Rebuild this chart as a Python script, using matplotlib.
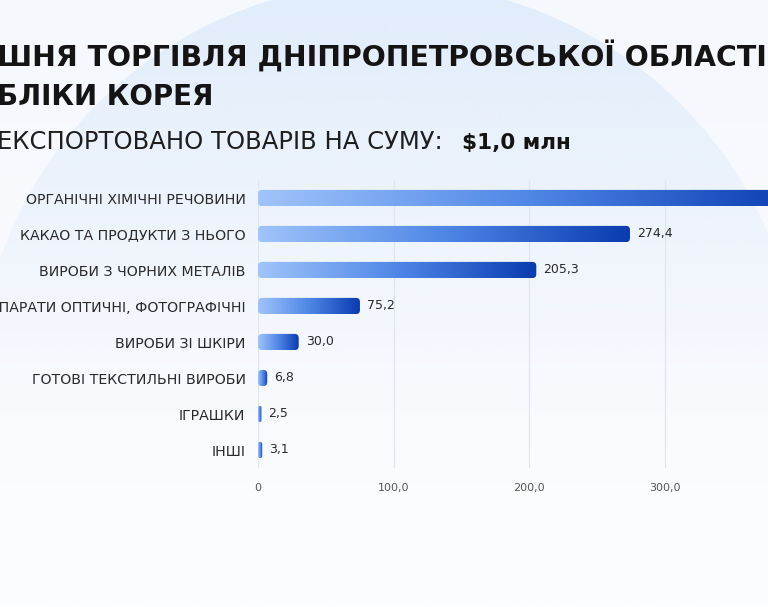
import numpy as np
import matplotlib
matplotlib.use("Agg")
import matplotlib.pyplot as plt
from matplotlib.patches import FancyBboxPatch, Circle
from matplotlib.colors import LinearSegmentedColormap, to_rgb

plt.rcParams['font.family'] = ['DejaVu Sans']

categories = ["ОРГАНІЧНІ ХІМІЧНІ РЕЧОВИНИ", "КАКАО ТА ПРОДУКТИ З НЬОГО", "ВИРОБИ З ЧОРНИХ МЕТАЛІВ",
              "АПАРАТИ ОПТИЧНІ, ФОТОГРАФІЧНІ", "ВИРОБИ ЗІ ШКІРИ", "ГОТОВІ ТЕКСТИЛЬНІ ВИРОБИ",
              "ІГРАШКИ", "ІНШІ"]
values = [402.7, 274.4, 205.3, 75.2, 30.0, 6.8, 2.5, 3.1]
xticks = [0, 100, 200, 300]
xtick_labels = ["0", "100,0", "200,0", "300,0"]

W, H = 768, 607
fig = plt.figure(figsize=(W / 100, H / 100), dpi=100)

# background + big faded circle
bg = fig.add_axes([0, 0, 1, 1])
bg.set_xlim(0, W)
bg.set_ylim(H, 0)
bg.axis("off")
top = np.array(to_rgb("#f5f8fd"))
bot = np.array(to_rgb("#fcfdff"))
t = np.linspace(0, 1, 300).reshape(-1, 1, 1)
bg.imshow(top * (1 - t) + bot * t, extent=(0, W, H, 0), aspect="auto", zorder=0)
circ = Circle((389, 395), 412, facecolor="none", edgecolor="none")
bg.add_patch(circ)
ca = np.zeros((300, 1, 4))
ca[:, 0, :3] = to_rgb("#e2edfb")
ca[:, 0, 3] = np.clip(1 - np.linspace(0, 1, 300) / 0.75, 0, 1) ** 1.3
im = bg.imshow(ca, extent=(0, W, H, 0), aspect="auto", zorder=1)
im.set_clip_path(circ)
bg.set_xlim(0, W)
bg.set_ylim(H, 0)

# titles (picture is cropped at both sides)
fig.text(-0.004, 1 - 67 / H, "ШНЯ ТОРГІВЛЯ ДНІПРОПЕТРОВСЬКОЇ ОБЛАСТІ", fontsize=20.4,
         weight="bold", color="#141414", va="baseline")
fig.text(-0.004, 1 - 105 / H, "БЛІКИ КОРЕЯ", fontsize=20, weight="bold", color="#141414",
         va="baseline")
fig.text(-0.004, 1 - 149 / H, "ЕКСПОРТОВАНО ТОВАРІВ НА СУМУ:", fontsize=17.5, color="#1e1e1e",
         va="baseline")
fig.text(462 / W, 1 - 149 / H, "$1,0 млн", fontsize=15.5, weight="bold", color="#141414",
         va="baseline")

# chart
left_px, right_px, top_px, bot_px = 258, 868, 180, 468
ax = fig.add_axes([left_px / W, 1 - bot_px / H, (right_px - left_px) / W, (bot_px - top_px) / H])
ax.patch.set_alpha(0)
xmax = 450
ax.set_xlim(0, xmax)
ax.set_ylim(len(values) - 0.5, -0.5)
px_x = (right_px - left_px) / xmax
px_y = (bot_px - top_px) / len(values)
asp = px_x / px_y

cmap = LinearSegmentedColormap.from_list("bars", ["#a0c4fb", "#4f87e6", "#0a3bb0"])
grad = np.linspace(0, 1, 256).reshape(1, -1)
h = 0.45
for i, v in enumerate(values):
    r = min(4 / px_x, v / 2)
    p = FancyBboxPatch((0, i - h / 2), v, h, boxstyle=f"round,pad=0,rounding_size={r}",
                       mutation_aspect=asp, facecolor="none", edgecolor="none", zorder=2)
    ax.add_patch(p)
    bar = ax.imshow(grad, extent=(0, v, i + h / 2, i - h / 2), aspect="auto", cmap=cmap,
                    zorder=3)
    bar.set_clip_path(p)
    ax.annotate(f"{v:.1f}".replace(".", ","), (v, i), xytext=(5, 0), textcoords="offset points",
                va="center", ha="left", fontsize=9, color="#2a2a2a")

ax.set_xlim(0, xmax)
ax.set_ylim(len(values) - 0.5, -0.5)
ax.set_yticks(range(len(values)))
ax.set_yticklabels(categories, fontsize=10.2, color="#2a2a2a")
ax.set_xticks(xticks)
ax.set_xticklabels(xtick_labels, fontsize=8, color="#555555")
ax.set_xticks([400], minor=True)
ax.tick_params(length=0)
ax.tick_params(which="minor", length=0)
ax.tick_params(axis="y", pad=9)
ax.tick_params(axis="x", pad=11)
ax.grid(axis="x", which="both", color="#e1e6ee", lw=0.9)
ax.set_axisbelow(True)
for s in ax.spines.values():
    s.set_visible(False)

fig.savefig("out.png", dpi=100)
